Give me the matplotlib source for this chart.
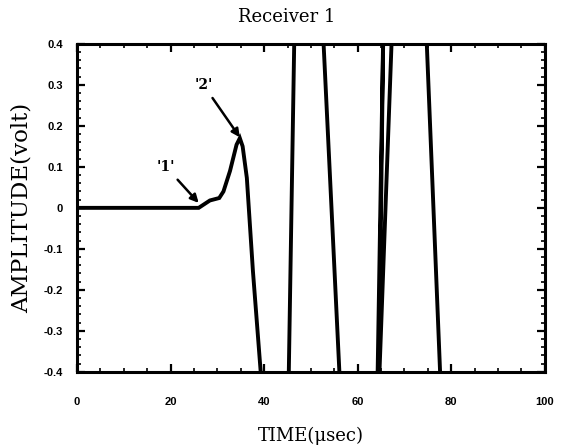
"""Receiver 1 waveform: amplitude vs time with arrival markers '1' and '2'."""

import matplotlib

matplotlib.use("Agg")
import matplotlib.pyplot as plt
from matplotlib.ticker import FuncFormatter, MultipleLocator

# waveform (values beyond +-0.4 are clipped by the axes)
time_us = [0.0, 26.0, 28.4, 30.4, 31.3, 32.7, 34.1, 34.8, 35.4, 36.3, 37.6, 39.6,
           45.2, 46.5, 52.5, 56.3, 64.2, 65.5, 64.5, 67.4, 74.6, 77.8, 100.0]
amplitude = [0.0, 0.0, 0.018, 0.024, 0.04, 0.09, 0.154, 0.170, 0.15, 0.073, -0.154, -0.45,
             -0.45, 0.45, 0.45, -0.45, -0.45, 0.45, -0.45, 0.45, 0.45, -0.45, -0.45]

# arrival markers: label, point on the trace, label position
markers = ["'1'", "'2'"]
marker_points = [(26.0, 0.012), (34.8, 0.172)]
marker_labels = [(19.0, 0.10), (27.0, 0.30)]


def fmt_amp(v, _pos):
    return "0" if abs(v) < 1e-9 else f"{v:.1f}"


fig = plt.figure(figsize=(5.71, 4.47), dpi=100)
ax = fig.add_axes([0.135, 0.168, 0.819, 0.734])

ax.plot(time_us, amplitude, color="black", lw=2.8, solid_joinstyle="miter")

for text, xy, xytext in zip(markers, marker_points, marker_labels):
    ax.annotate(text, xy=xy, xytext=xytext, ha="center", va="center",
                fontsize=10, fontweight="bold", family="DejaVu Serif",
                arrowprops=dict(arrowstyle="-|>", color="black", lw=1.8,
                                mutation_scale=12, shrinkA=3, shrinkB=0))

ax.set_xlim(0, 100)
ax.set_ylim(-0.4, 0.4)
ax.xaxis.set_major_locator(MultipleLocator(20))
ax.xaxis.set_minor_locator(MultipleLocator(5))
ax.yaxis.set_major_locator(MultipleLocator(0.1))
ax.yaxis.set_minor_locator(MultipleLocator(0.02))
ax.xaxis.set_major_formatter(FuncFormatter(lambda v, _p: f"{v:g}"))
ax.yaxis.set_major_formatter(FuncFormatter(fmt_amp))

ax.tick_params(which="both", direction="in", top=True, right=True, color="black")
ax.tick_params(which="major", length=6, width=1.6)
ax.tick_params(which="minor", length=3, width=1.2)
ax.tick_params(axis="x", which="major", pad=18)
ax.tick_params(axis="y", which="major", pad=10)
for lab in ax.get_xticklabels() + ax.get_yticklabels():
    lab.set_family("Liberation Sans")
    lab.set_fontweight("bold")
    lab.set_fontsize(8)

for spine in ax.spines.values():
    spine.set_linewidth(2.2)

ax.set_xlabel("TIME(\u03bcsec)", family="DejaVu Serif", fontsize=13, labelpad=14)
ax.set_ylabel("AMPLITUDE(volt)", family="DejaVu Serif", fontsize=16.5, labelpad=8)
fig.text(287 / 571, 1 - 17 / 447, "Receiver 1", family="DejaVu Serif", fontsize=13,
         ha="center", va="center")

fig.savefig("out.png", dpi=100)
